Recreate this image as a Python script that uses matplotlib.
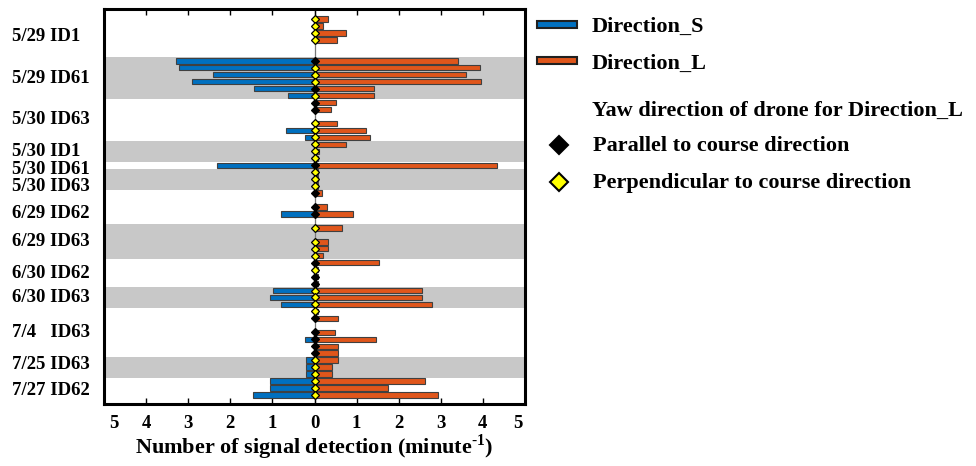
import matplotlib
matplotlib.use("Agg")
import matplotlib.pyplot as plt
from matplotlib.lines import Line2D
from matplotlib.patches import Rectangle
from matplotlib.transforms import ScaledTranslation

plt.rcParams["font.family"] = ["Liberation Serif", "DejaVu Serif"]
plt.rcParams["font.weight"] = "bold"
plt.rcParams["axes.labelweight"] = "bold"
plt.rcParams["mathtext.fontset"] = "custom"
plt.rcParams["mathtext.rm"] = "Liberation Serif:bold"
plt.rcParams["mathtext.bf"] = "Liberation Serif:bold"

# one entry per bar row, top to bottom; None = empty slot
s_vals = [0, 0, 0, 0, None, None,
          3.30, 3.21, 2.40, 2.91, 1.44, 0.64,
          0, 0, None, 0, 0.68, 0.23,
          0, 0, 0,
          2.32,
          0, 0, 0,
          0, None, 0, 0.79, None,
          0, None, 0, 0, 0,
          0, 0, 0, 0,
          0.98, 1.06, 0.79,
          0, 0, None, 0, 0.23, 0, 0,
          0.21, 0.21, 0.21,
          1.05, 1.05, 1.45]
l_vals = [0.32, 0.21, 0.75, 0.54, None, None,
          3.40, 3.94, 3.60, 3.95, 1.42, 1.41,
          0.50, 0.39, None, 0.54, 1.23, 1.33,
          0.75, 0.10, 0.08,
          4.33,
          0.08, 0.08, 0.08,
          0.18, None, 0.30, 0.91, None,
          0.66, None, 0.32, 0.32, 0.21,
          1.54, 0.08, 0.08, 0.08,
          2.56, 2.56, 2.79,
          0.08, 0.57, None, 0.48, 1.47, 0.57, 0.57,
          0.56, 0.41, 0.41,
          2.62, 1.75, 2.94]
# yaw of drone: "par" = parallel (black), "perp" = perpendicular (yellow)
yaw = ["perp", "perp", "perp", "perp", None, None,
       "par", "perp", "perp", "perp", "par", "perp",
       "par", "par", None, "perp", "perp", "perp",
       "perp", "perp", "perp",
       "par",
       "perp", "perp", "perp",
       "par", None, "par", "par", None,
       "perp", None, "perp", "perp", "perp",
       "par", "perp", "par", "par",
       "perp", "perp", "perp",
       "perp", "par", None, "par", "par", "par", "par",
       "perp", "perp", "perp",
       "perp", "perp", "perp"]

groups = ["5/29 ID1", "5/29 ID61", "5/30 ID63", "5/30 ID1", "5/30 ID61",
          "5/30 ID63", "6/29 ID62", "6/29 ID63", "6/30 ID62", "6/30 ID63",
          "7/4   ID63", "7/25 ID63", "7/27 ID62"]
group_first = [0, 6, 12, 18, 21, 22, 25, 30, 35, 39, 42, 49, 52]
group_last = [5, 11, 17, 20, 21, 24, 29, 34, 38, 41, 48, 51, 54]

BLUE = "#0070c0"
ORANGE = "#e0561b"
GRAY = "#c8c8c8"

fig = plt.figure(figsize=(9.76, 4.66), dpi=100)
ax = fig.add_axes([104 / 976, 62 / 466, 421 / 976, 395 / 466])

rows = list(range(len(s_vals)))
for i, (a, b) in enumerate(zip(group_first, group_last)):
    if i % 2 == 1:
        ax.axhspan(a - 0.5, b + 0.5, color=GRAY, lw=0, zorder=0)

ax.axvline(0, color="#777777", lw=0.9, zorder=1)

ys = [r for r in rows if s_vals[r]]
ax.barh(ys, [-s_vals[r] for r in ys], height=0.78, color=BLUE,
        edgecolor="#404040", lw=0.8, zorder=2)
yl = [r for r in rows if l_vals[r]]
ax.barh(yl, [l_vals[r] for r in yl], height=0.78, color=ORANGE,
        edgecolor="#404040", lw=0.8, zorder=2)

for kind, fc in (("par", "black"), ("perp", "#ffff00")):
    yy = [r for r in rows if yaw[r] == kind]
    ax.plot([0] * len(yy), yy, ls="none", marker="D", ms=4.3, mfc=fc,
            mec="black", mew=0.9, zorder=3)

ax.set_xlim(-5, 5)
ax.set_ylim(55.3, -1.44)
ax.set_xticks(range(-5, 6))
ax.set_xticklabels([str(abs(v)) for v in range(-5, 6)], fontsize=13.5)
ax.set_yticks([])
ax.tick_params(axis="x", direction="in", top=True, length=4, width=1, pad=8)
# end labels sit a little inside the frame in the original
tl = ax.get_xticklabels()
tl[0].set_transform(tl[0].get_transform() + ScaledTranslation(0.1, 0, fig.dpi_scale_trans))
tl[-1].set_transform(tl[-1].get_transform() + ScaledTranslation(-0.07, 0, fig.dpi_scale_trans))
for sp in ax.spines.values():
    sp.set_linewidth(2.2)
ax.set_xlabel("Number of signal detection (minute$^{\u20101}$)",
              fontsize=16, fontweight="bold", labelpad=0)

# group labels, nudged where they crowd
nudge = {4: 0.6, 5: 1.1, 6: 0.9, 10: 0.1, 11: -0.4, 12: 0.3}
for i, name in enumerate(groups):
    yc = (group_first[i] + group_last[i]) / 2 + nudge.get(i, 0)
    ax.annotate(name, xy=(0, yc), xycoords=("axes fraction", "data"),
                xytext=(-92, 0), textcoords="offset pixels",
                ha="left", va="center", fontsize=13.5)


# legend drawn by hand in figure pixels
def fx(px):
    return px / 976


def fy(py):
    return 1 - py / 466


for yc, col, txt in ((24, BLUE, "Direction_S"), (60.5, ORANGE, "Direction_L")):
    fig.add_artist(Rectangle((fx(537), fy(yc + 3.5)), 40 / 976, 7 / 466,
                             transform=fig.transFigure, fc=col, ec="#202020",
                             lw=1.5))
    fig.text(fx(592), fy(yc + 8), txt, fontsize=16, va="baseline")

fig.text(fx(592), fy(116), "Yaw direction of drone for Direction_L",
         fontsize=16, va="baseline")
for yc, fc, txt in ((145, "black", "Parallel to course direction"),
                    (182, "#ffff00", "Perpendicular to course direction")):
    fig.add_artist(Line2D([fx(559)], [fy(yc)], transform=fig.transFigure,
                          ls="none", marker="D", ms=9, mfc=fc, mec="black",
                          mew=1.5))
    fig.text(fx(593), fy(yc + 6), txt, fontsize=16, va="baseline")

fig.savefig("out.png", dpi=100)
